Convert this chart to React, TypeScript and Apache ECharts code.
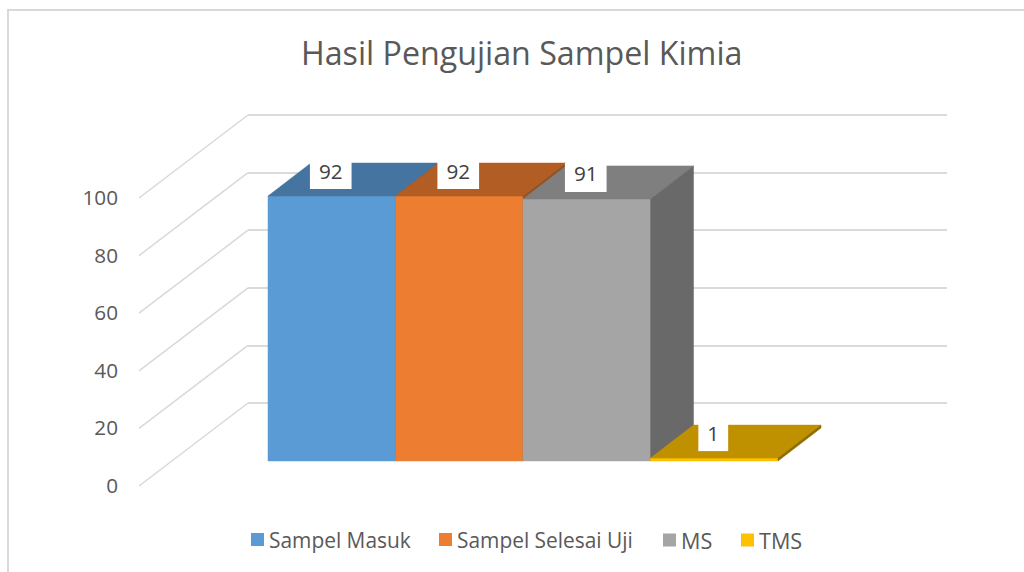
import React, { useEffect, useRef } from "react";
import * as echarts from "echarts";

const titleText = "Hasil Pengujian Sampel Kimia";
const seriesNames = ["Sampel Masuk", "Sampel Selesai Uji", "MS", "TMS"];
const seriesValues = [92, 92, 91, 1];
const frontColors = ["#5B9BD5", "#ED7D31", "#A5A5A5", "#FFC000"];
const topColors = ["#44749F", "#B15D24", "#7F7F7F", "#BF9000"];
const sideColors = ["#376088", "#94501F", "#696969", "#8F6C00"];
const axisTicks = [0, 20, 40, 60, 80, 100];
const legendLefts = [251, 439, 663, 741];
const legendFontSizes = [20.9, 20.9, 21.6, 21.6];

const FONT = '"Open Sans", sans-serif';
const BAR_DX = 43;
const BAR_DY = 33;
const WALL_DX = 109;
const WALL_DY = 83;

export default function App() {
  const ref = useRef<HTMLDivElement>(null);
  useEffect(() => {
    const chart = echarts.init(ref.current!, null, { renderer: "svg" });

    const barSeries = seriesNames.map((name, i) => ({
      name,
      type: "custom",
      xAxisIndex: 2,
      yAxisIndex: 2,
      z: 5 + i,
      clip: false,
      silent: true,
      itemStyle: { color: frontColors[i] },
      data: [[name, seriesValues[i]]],
      renderItem: (_: any, api: any) => {
        const v = api.value(1);
        const top = api.coord([api.value(0), v]);
        const base = api.coord([api.value(0), 0]);
        const w = api.size([1, 0])[0];
        const l = top[0] - w / 2;
        const r = top[0] + w / 2;
        const poly = (points: number[][], fill: string) => ({
          type: "polygon",
          shape: { points },
          style: { fill, stroke: fill, lineWidth: 0.5 },
        });
        return {
          type: "group",
          children: [
            poly([[l, top[1]], [r, top[1]], [r, base[1]], [l, base[1]]], frontColors[i]),
            poly([[l, top[1]], [l + BAR_DX, top[1] - BAR_DY], [r + BAR_DX, top[1] - BAR_DY], [r, top[1]]], topColors[i]),
            poly([[r, top[1]], [r + BAR_DX, top[1] - BAR_DY], [r + BAR_DX, base[1] - BAR_DY], [r, base[1]]], sideColors[i]),
            {
              type: "text",
              z2: 10,
              style: {
                text: String(v),
                x: top[0] - 1,
                y: top[1] - BAR_DY - 3,
                align: "center",
                verticalAlign: "top",
                fill: "#404040",
                font: `20.7px ${FONT}`,
                backgroundColor: "#FFFFFF",
                padding: [0, 9, 8, 9],
              },
            },
          ],
        };
      },
    }));

    chart.setOption({
      animation: false,
      backgroundColor: "#FFFFFF",
      title: {
        text: titleText,
        left: 301,
        top: 36,
        padding: 0,
        textStyle: { fontFamily: FONT, fontSize: 32.2, fontWeight: "normal", color: "#595959" },
      },
      legend: seriesNames.map((name, i) => ({
        data: [name],
        left: legendLefts[i],
        top: 529,
        padding: 0,
        itemWidth: 13,
        itemHeight: 13,
        icon: "rect",
        textStyle: { fontFamily: FONT, fontSize: legendFontSizes[i], color: "#595959" },
      })),
      grid: [
        { left: 248, right: 77, top: 115, height: 288 },
        { left: 139, right: 77, top: 197, height: 288 },
        { left: 268, width: 510, top: 173, height: 288 },
      ],
      xAxis: [
        { gridIndex: 0, type: "value", min: 0, max: 1, show: false },
        { gridIndex: 1, type: "value", min: 0, max: 1, show: false },
        { gridIndex: 2, type: "category", data: seriesNames, show: false },
      ],
      yAxis: [
        {
          gridIndex: 0,
          type: "value",
          min: 0,
          max: 100,
          interval: 20,
          axisLine: { show: false },
          axisTick: { show: false },
          axisLabel: { show: false },
          splitLine: { show: true, lineStyle: { color: "#DADADA", width: 1.8 } },
        },
        {
          gridIndex: 1,
          type: "value",
          min: 0,
          max: 100,
          interval: 20,
          axisLine: { show: false },
          axisTick: { show: false },
          splitLine: { show: false },
          axisLabel: { margin: 21, fontFamily: FONT, fontSize: 20.7, color: "#595959" },
        },
        { gridIndex: 2, type: "value", min: 0, max: 100, show: false },
      ],
      graphic: [
        {
          type: "polyline",
          silent: true,
          shape: { points: [[8, 572], [8, 10], [1024, 10]] },
          style: { stroke: "#D9D9D9", lineWidth: 2, fill: "none" },
        },
      ],
      series: [
        {
          type: "custom",
          xAxisIndex: 0,
          yAxisIndex: 0,
          z: 1,
          clip: false,
          silent: true,
          data: axisTicks.map((t) => [0, t]),
          renderItem: (_: any, api: any) => {
            const p = api.coord([api.value(0), api.value(1)]);
            return {
              type: "line",
              shape: { x1: p[0], y1: p[1], x2: p[0] - WALL_DX, y2: p[1] + WALL_DY },
              style: { stroke: "#D9D9D9", lineWidth: 1.5 },
            };
          },
        },
        ...barSeries,
      ],
    });
    return () => chart.dispose();
  }, []);
  return (
    <div
      ref={ref}
      style={{ position: "fixed", left: 0, top: 0, width: 1024, height: 572 }}
    />
  );
}
